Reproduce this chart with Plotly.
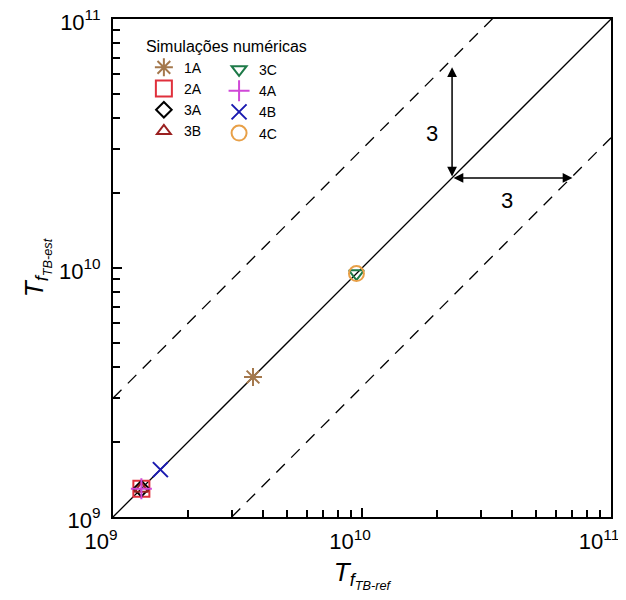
import plotly.graph_objects as go
import numpy as np

# ---- data ----
series_names = ["1A", "2A", "3A", "3B", "3C", "4A", "4B", "4C"]
tf_ref = [3.65e9, 1.30e9, 1.30e9, 1.30e9, 9.5e9, 1.30e9, 1.55e9, 9.5e9]
tf_est = [3.65e9, 1.30e9, 1.30e9, 1.30e9, 9.5e9, 1.30e9, 1.55e9, 9.5e9]
symbols = ["asterisk-open", "square-open", "diamond-open", "triangle-up-open",
           "triangle-down-open", "cross-thin-open", "x-thin-open", "circle-open"]
colors = ["#A4784C", "#E0303C", "#000000", "#9A2020",
          "#1E7A48", "#D048D8", "#1A1AB0", "#E8A048"]
sizes = [15, 16, 12, 12, 13, 15, 15, 15]
axis_range = [1e9, 1e11]
band_factor = 3
arrow_base = [2.3e10, 2.3e10]
arrow_up_tip = [2.3e10, 6.4e10]
arrow_right_tip = [7.0e10, 2.3e10]
major_ticks = [1e9, 1e10, 1e11]
major_tick_text = ["10<sup>9</sup>", "10<sup>10</sup>", "10<sup>11</sup>"]
minor_ticks = [m * 10 ** e for e in (9, 10) for m in range(2, 10)]

FONT = "Liberation Sans, Arial, sans-serif"

fig = go.Figure()

# reference lines
fig.add_trace(go.Scatter(x=axis_range, y=axis_range, mode="lines",
                         line=dict(color="black", width=1.3), showlegend=False, hoverinfo="skip"))
fig.add_trace(go.Scatter(x=axis_range, y=[v * band_factor for v in axis_range], mode="lines",
                         line=dict(color="black", width=1.3, dash="12px,9px"), showlegend=False, hoverinfo="skip"))
fig.add_trace(go.Scatter(x=axis_range, y=[v / band_factor for v in axis_range], mode="lines",
                         line=dict(color="black", width=1.3, dash="12px,9px"), showlegend=False, hoverinfo="skip"))

for i, name in enumerate(series_names):
    fig.add_trace(go.Scatter(
        x=[tf_ref[i]], y=[tf_est[i]], mode="markers", name=name,
        marker=dict(symbol=symbols[i], size=sizes[i], color=colors[i],
                    line=dict(width=2, color=colors[i])),
        legend="legend" if i < 4 else "legend2",
        cliponaxis=False,
    ))

lx = np.log10
annotations = [
    dict(x=lx(arrow_up_tip[0]), y=lx(arrow_up_tip[1]), ax=lx(arrow_base[0]), ay=lx(arrow_base[1]),
         xref="x", yref="y", axref="x", ayref="y", showarrow=True, arrowhead=2, arrowsize=1.3,
         arrowwidth=1.5, arrowside="end+start", text="", arrowcolor="black"),
    dict(x=lx(arrow_right_tip[0]), y=lx(arrow_right_tip[1]), ax=lx(arrow_base[0]), ay=lx(arrow_base[1]),
         xref="x", yref="y", axref="x", ayref="y", showarrow=True, arrowhead=2, arrowsize=1.3,
         arrowwidth=1.5, arrowside="end+start", text="", arrowcolor="black"),
    dict(x=10.281, y=10.542, xref="x", yref="y", text=str(band_factor), showarrow=False,
         font=dict(size=22, color="black", family=FONT)),
    dict(x=10.582, y=10.273, xref="x", yref="y", text=str(band_factor), showarrow=False,
         font=dict(size=22, color="black", family=FONT)),
]

axis_common = dict(
    type="log", range=[9, 11], tickmode="array", tickvals=major_ticks, ticktext=major_tick_text,
    ticks="inside", ticklen=9, tickwidth=1.5, tickcolor="black",
    showline=True, linecolor="black", linewidth=2, mirror=True,
    showgrid=False, zeroline=False, automargin=False, ticklabeloverflow="allow",
    tickfont=dict(size=22, color="black", family=FONT),
    minor=dict(tickmode="array", tickvals=minor_ticks, ticks="inside", ticklen=7,
               tickwidth=1.5, tickcolor="black", showgrid=False),
)

fig.update_layout(
    width=626, height=600,
    margin=dict(l=105, r=23, t=11, b=91),
    paper_bgcolor="white", plot_bgcolor="white",
    font=dict(family=FONT, color="black"),
    xaxis=dict(axis_common, ticklabelstandoff=4, ticklabelshift=-12,
               title=dict(text="<i>T<sub>f<sub>TB-ref</sub></sub></i>", font=dict(size=26, family=FONT), standoff=9)),
    yaxis=dict(axis_common, ticklabelstandoff=6, ticklabelshift=3,
               title=dict(text="<i>T<sub>f<sub>TB-est</sub></sub></i>", font=dict(size=26, family=FONT), standoff=8)),
    legend=dict(x=0.062, y=0.976, xanchor="left", yanchor="top", bgcolor="rgba(0,0,0,0)",
                title=dict(text="Simulações numéricas", font=dict(size=16, family=FONT)),
                font=dict(size=14, family=FONT), tracegroupgap=0, itemwidth=30),
    legend2=dict(x=0.213, y=0.930, xanchor="left", yanchor="top", bgcolor="rgba(0,0,0,0)",
                 font=dict(size=14, family=FONT), tracegroupgap=0, itemwidth=30),
    annotations=annotations,
    showlegend=True,
)

fig.write_html("out.html")
